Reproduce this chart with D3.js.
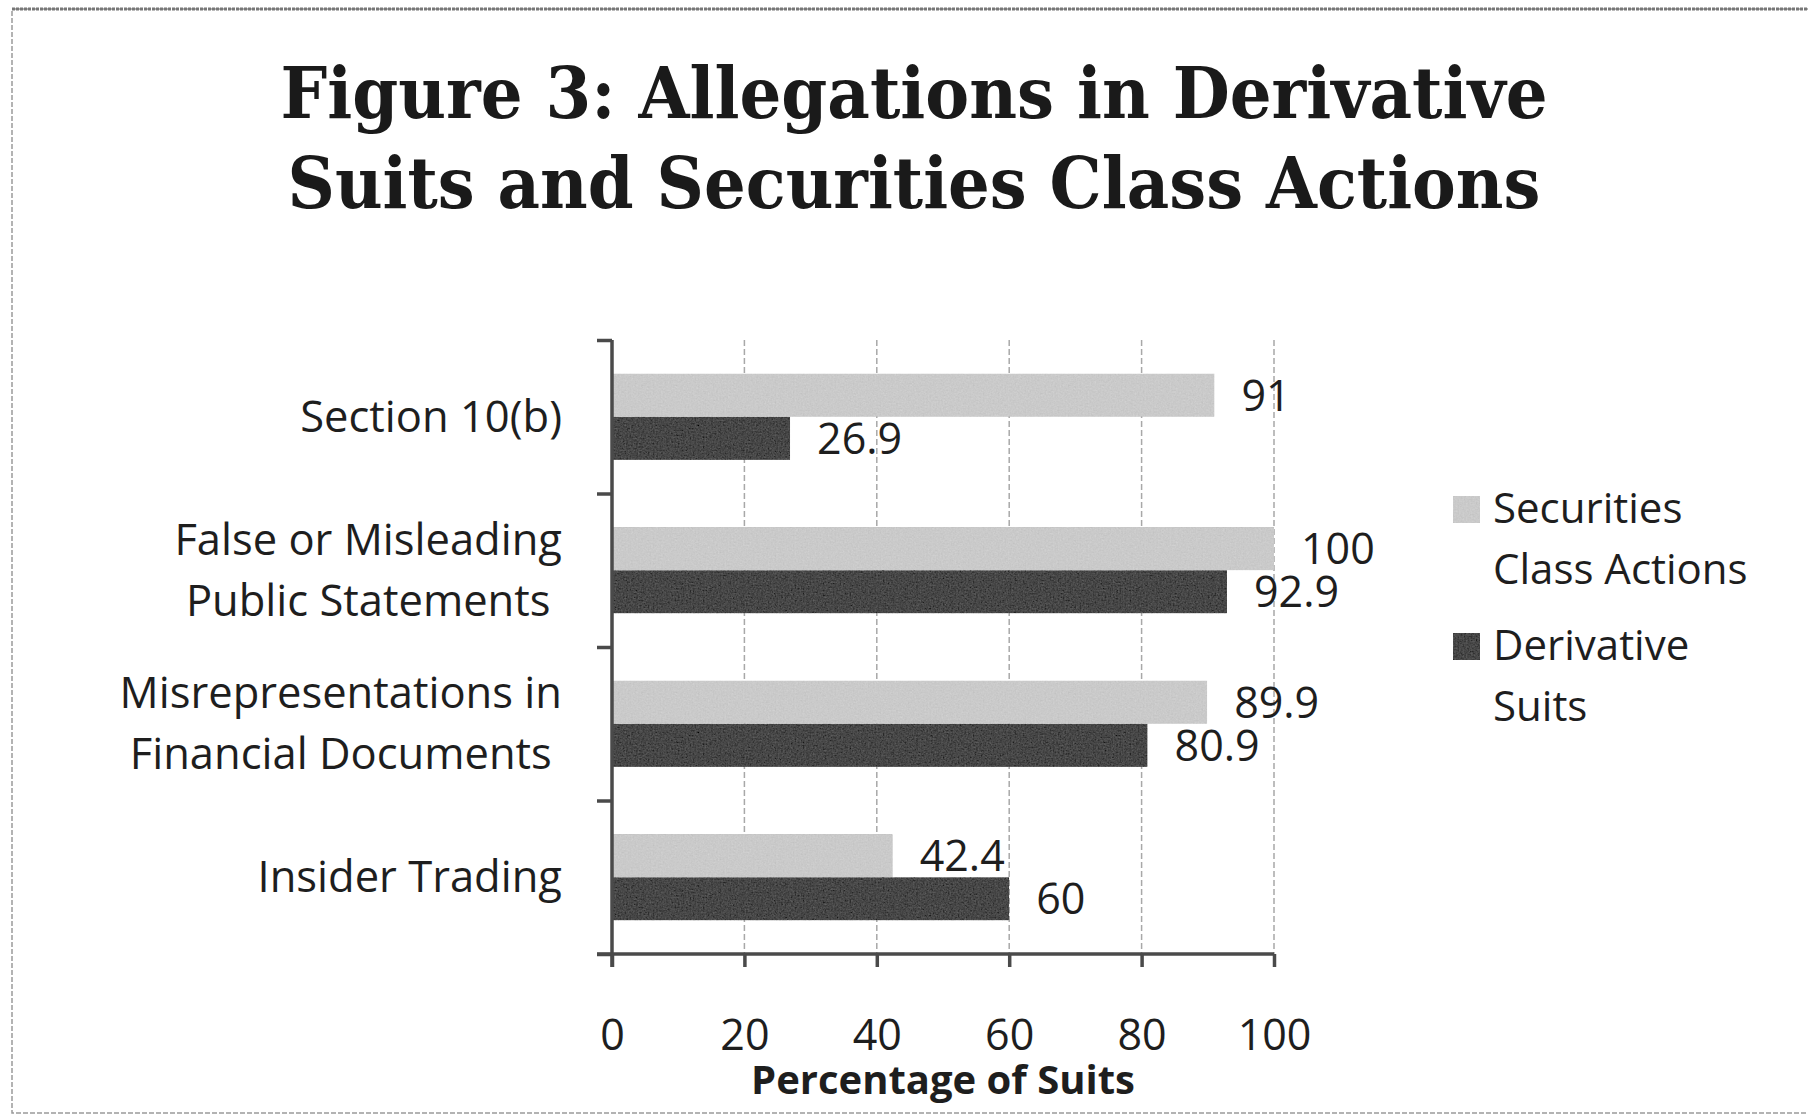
<!DOCTYPE html>
<html>
<head>
<meta charset="utf-8">
<script src="https://cdn.jsdelivr.net/npm/d3@7"></script>
<style>
  html, body { margin: 0; padding: 0; background: #fff; }
  svg { display: block; }
  .label { font-family: "Open Sans", sans-serif; fill: #1e1e1e; }
</style>
</head>
<body>
<div id="container"></div>
<script>
const categories = [
  ["Section 10(b)"],
  ["False or Misleading", "Public Statements"],
  ["Misrepresentations in", "Financial Documents"],
  ["Insider Trading"]
];
const seriesNames = [["Securities", "Class Actions"], ["Derivative", "Suits"]];
const securitiesValues = [91, 100, 89.9, 42.4];
const derivativeValues = [26.9, 92.9, 80.9, 60];
const xTicks = [0, 20, 40, 60, 80, 100];
const titleLines = ["Figure 3: Allegations in Derivative", "Suits and Securities Class Actions"];
const xTitle = "Percentage of Suits";

const W = 1808, H = 1119;
const plot = { left: 612, right: 1274, top: 340, bottom: 954 };
const barColors = ["#cacaca", "#474747"];

const svg = d3.select('#container')
  .append('svg')
  .attr('width', W)
  .attr('height', H);

// scan-like grain for the bars
const defs = svg.append('defs');
const grain = defs.append('filter').attr('id', 'grain')
  .attr('x', 0).attr('y', 0).attr('width', 1).attr('height', 1);
grain.append('feTurbulence').attr('type', 'fractalNoise').attr('baseFrequency', 0.6)
  .attr('numOctaves', 2).attr('seed', 3).attr('result', 'noise');
grain.append('feColorMatrix').attr('in', 'noise').attr('type', 'matrix')
  .attr('values', '0.33 0.33 0.33 0 0  0.33 0.33 0.33 0 0  0.33 0.33 0.33 0 0  0 0 0 0 1')
  .attr('result', 'gray');
grain.append('feComposite').attr('in', 'SourceGraphic').attr('in2', 'gray')
  .attr('operator', 'arithmetic').attr('k1', 0).attr('k2', 1).attr('k3', 0.22).attr('k4', -0.11)
  .attr('result', 'mixed');
grain.append('feComposite').attr('in', 'mixed').attr('in2', 'SourceGraphic').attr('operator', 'in');

// page frame
svg.append('rect')
  .attr('x', 12).attr('y', 9)
  .attr('width', W).attr('height', 1104)
  .attr('fill', 'none')
  .attr('stroke', '#9a9a9a')
  .attr('stroke-width', 1.5)
  .attr('stroke-dasharray', '5,2');
svg.append('line')
  .attr('x1', 12).attr('x2', W).attr('y1', 9).attr('y2', 9)
  .attr('stroke', '#777').attr('stroke-width', 3).attr('stroke-dasharray', '3,1');

// title
svg.append('g')
  .selectAll('text')
  .data(titleLines)
  .enter()
  .append('text')
  .attr('x', 914)
  .attr('y', (d, i) => 118 + i * 90)
  .attr('text-anchor', 'middle')
  .attr('textLength', (d, i) => i === 0 ? 1267 : 1253)
  .attr('lengthAdjust', 'spacingAndGlyphs')
  .style('font-family', '"DejaVu Serif", serif')
  .style('font-weight', 'bold')
  .style('font-size', '71px')
  .style('fill', '#1a1a1a')
  .text(d => d);

const xScale = d3.scaleLinear().domain([0, 100]).range([plot.left, plot.right]);
const yScale = d3.scaleBand()
  .domain(d3.range(categories.length))
  .range([plot.top, plot.bottom]);
const inner = d3.scaleBand()
  .domain([0, 1])
  .range([0, yScale.bandwidth()])
  .paddingOuter(0.78);
const yEdge = d3.scaleLinear().domain([0, categories.length]).range([plot.top, plot.bottom]);

// gridlines
svg.append('g')
  .selectAll('line')
  .data(xTicks.slice(1))
  .enter()
  .append('line')
  .attr('x1', d => xScale(d)).attr('x2', d => xScale(d))
  .attr('y1', plot.top).attr('y2', plot.bottom)
  .attr('stroke', '#a8a8a8')
  .attr('stroke-width', 1.5)
  .attr('stroke-dasharray', '6,3');

// bars
const rows = categories.map((c, i) => ({ i, values: [securitiesValues[i], derivativeValues[i]] }));
const groups = svg.append('g')
  .selectAll('g')
  .data(rows)
  .enter()
  .append('g')
  .attr('transform', d => `translate(0,${yScale(d.i)})`);

groups.selectAll('rect')
  .data(d => d.values.map((v, s) => ({ v, s })))
  .enter()
  .append('rect')
  .attr('x', xScale(0))
  .attr('y', d => inner(d.s))
  .attr('width', d => xScale(d.v) - xScale(0))
  .attr('height', inner.bandwidth())
  .attr('fill', d => barColors[d.s])
  .attr('filter', 'url(#grain)');

groups.selectAll('text.value')
  .data(d => d.values.map((v, s) => ({ v, s })))
  .enter()
  .append('text')
  .attr('class', 'label value')
  .attr('x', d => xScale(d.v) + 27)
  .attr('y', d => inner(d.s) + inner.bandwidth() / 2)
  .attr('dy', '0.36em')
  .style('font-size', '43px')
  .text(d => d.v);

// y axis (ticks between categories)
const yAxis = svg.append('g')
  .attr('transform', `translate(${plot.left},0)`)
  .call(d3.axisLeft(yEdge).ticks(categories.length).tickSize(15).tickFormat(''));
yAxis.select('.domain').attr('d', `M0,${plot.top}V${plot.bottom + 13}`);

// x axis
const xAxis = svg.append('g')
  .attr('transform', `translate(0,${plot.bottom})`)
  .call(d3.axisBottom(xScale).tickValues(xTicks).tickSize(13).tickPadding(52));
xAxis.select('.domain').attr('d', `M${plot.left - 15},0H${plot.right}`);

[yAxis, xAxis].forEach(a => {
  a.selectAll('.domain, .tick line').attr('stroke', '#4a4a4a').attr('stroke-width', 3.5);
});
xAxis.selectAll('.tick text')
  .attr('class', 'label')
  .style('font-size', '43px')
  .attr('fill', null);

svg.append('text')
  .attr('class', 'label')
  .attr('x', (plot.left + plot.right) / 2)
  .attr('y', 1094)
  .attr('text-anchor', 'middle')
  .style('font-size', '40px')
  .style('font-weight', 'bold')
  .text(xTitle);

// category labels: lines centred in a block, block right-aligned to the axis
const catLabels = svg.append('g')
  .selectAll('g')
  .data(categories)
  .enter()
  .append('g');

catLabels.each(function(lines, i) {
  const g = d3.select(this);
  const cy = yScale(i) + yScale.bandwidth() / 2;
  const t = g.append('text')
    .attr('class', 'label')
    .attr('text-anchor', 'middle')
    .style('font-size', '43.5px');
  t.selectAll('tspan')
    .data(lines)
    .enter()
    .append('tspan')
    .attr('x', 0)
    .attr('y', (d, k) => cy + 15 - (lines.length - 1) * 30.5 + k * 61)
    .text(d => d);
  const w = t.node().getBBox().width;
  g.attr('transform', `translate(${562 - w / 2},0)`);
});

// legend
const legend = svg.append('g')
  .selectAll('g')
  .data(seriesNames)
  .enter()
  .append('g')
  .attr('transform', (d, i) => `translate(1453,${496 + i * 137})`);

legend.append('rect')
  .attr('width', 27).attr('height', 27)
  .attr('fill', (d, i) => barColors[i])
  .attr('filter', 'url(#grain)');

legend.append('text')
  .attr('class', 'label')
  .style('font-size', '42px')
  .selectAll('tspan')
  .data(d => d)
  .enter()
  .append('tspan')
  .attr('x', 40)
  .attr('y', (d, k) => 27 + k * 61)
  .text(d => d);
</script>
</body>
</html>
